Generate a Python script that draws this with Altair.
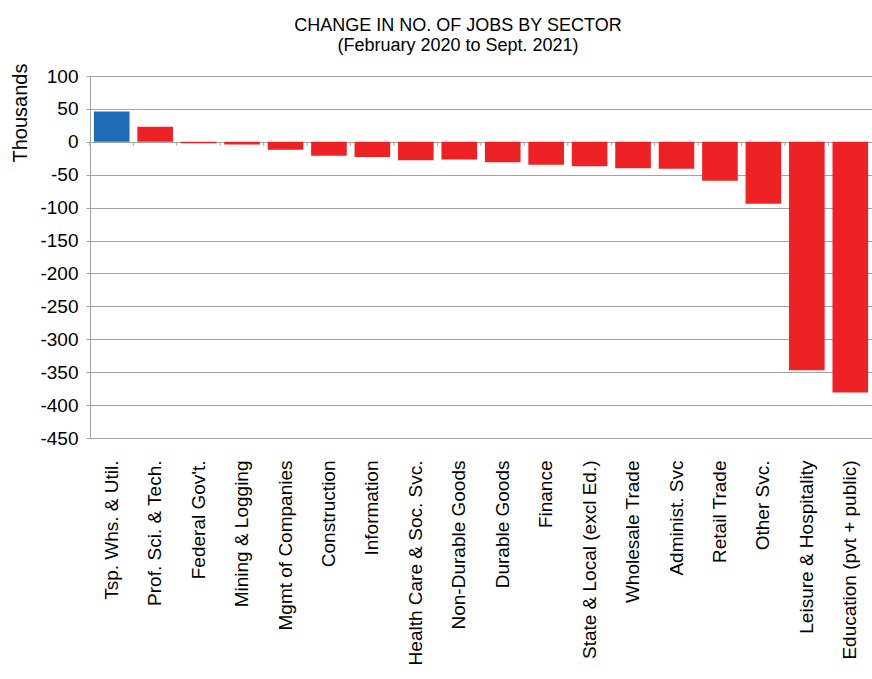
import altair as alt
import pandas as pd

# Change in number of jobs, February 2020 to Sept. 2021 (thousands)
sectors = [
    "Tsp. Whs. & Util.",
    "Prof. Sci. & Tech.",
    "Federal Gov't.",
    "Mining & Logging",
    "Mgmt of Companies",
    "Construction",
    "Information",
    "Health Care & Soc. Svc.",
    "Non-Durable Goods",
    "Durable Goods",
    "Finance",
    "State & Local (excl Ed.)",
    "Wholesale Trade",
    "Administ. Svc",
    "Retail Trade",
    "Other Svc.",
    "Leisure & Hospitality",
    "Education (pvt + public)",
]
changes = [46, 23, -2, -4, -12, -21, -23, -28, -27, -31, -35, -37, -40, -41, -59, -94, -347, -381]
y_ticks = [100, 50, 0, -50, -100, -150, -200, -250, -300, -350, -400, -450]

df = pd.DataFrame({"sector": sectors, "change": changes})

BLUE = "#1c6db5"
RED = "#ee2225"
GRID = "#a3a3a3"
FONT = "Liberation Sans"

x_scale = alt.Scale(domain=sectors, paddingInner=0.18, paddingOuter=0.09)
y_scale = alt.Scale(domain=[-450, 100], nice=False, zero=False)

bars = alt.Chart(df).mark_bar().encode(
    x=alt.X(
        "sector:N",
        scale=x_scale,
        sort=None,
        title=None,
        axis=alt.Axis(
            labelAngle=-90,
            labelFontSize=19,
            labelColor="#000000",
            labelPadding=22,
            ticks=False,
            domain=False,
            grid=False,
            labelLimit=300,
        ),
    ),
    y=alt.Y(
        "change:Q",
        scale=y_scale,
        title="Thousands",
        axis=alt.Axis(
            values=y_ticks,
            tickCount=len(y_ticks) + 4,
            labelExpr="datum.value < 0 ? '-' + abs(datum.value) : '' + datum.value",
            labelOverlap=False,
            labelFlush=False,
            labelFontSize=19,
            labelColor="#000000",
            labelPadding=8,
            tickSize=4,
            tickColor=GRID,
            domainColor=GRID,
            gridColor=GRID,
            gridWidth=1,
            titleFontSize=20,
            titleFontWeight="normal",
            titleColor="#000000",
            titleAngle=-90,
            titleAlign="right",
            titleBaseline="alphabetic",
            titleX=-64,
            titleY=-13,
        ),
    ),
    color=alt.condition(
        alt.datum.sector == sectors[0], alt.value(BLUE), alt.value(RED)
    ),
)

# small category-boundary ticks hanging from the zero line
zero_ticks = alt.Chart(df).mark_rule(color=GRID, xOffset=-4, strokeWidth=1).encode(
    x=alt.X("sector:N", scale=x_scale, sort=None, bandPosition=0),
    y=alt.datum(0),
    y2=alt.datum(-6),
)

chart = (
    alt.layer(bars, zero_ticks)
    .properties(
        width=782,
        height=362,
        autosize="none",
        padding={"left": 90, "top": 76, "right": 0, "bottom": 241},
        title=alt.Title(
            text=["CHANGE IN NO. OF JOBS BY SECTOR", "(February 2020 to Sept. 2021)"],
            fontSize=18,
            fontWeight="normal",
            font=FONT,
            color="#000000",
            lineHeight=20,
            anchor="middle",
            dx=-23,
            offset=8,
        ),
    )
    .configure(font=FONT)
    .configure_view(stroke=None)
)

chart.save("out.html", embed_options={"renderer": "svg", "actions": False})
